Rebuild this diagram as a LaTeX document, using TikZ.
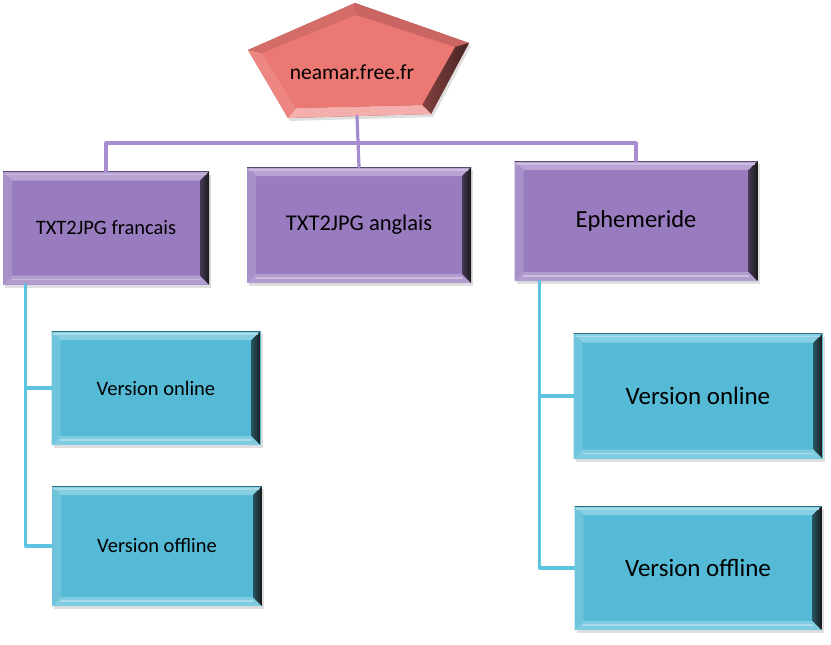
\documentclass[tikz,border=0pt]{standalone}
\usepackage{fontspec}
\setmainfont{Carlito}
\usetikzlibrary{calc,shadows}
\definecolor{rootred}{RGB}{236,120,116}
\definecolor{boxpurple}{RGB}{153,124,191}
\definecolor{boxcyan}{RGB}{84,186,214}
\definecolor{linepurple}{RGB}{168,140,208}
\definecolor{linecyan}{RGB}{92,196,224}
\tikzset{
  bevel/.style={rectangle, fill=#1, inner sep=0pt, text=black,
    drop shadow={opacity=.25, shadow xshift=2pt, shadow yshift=-3pt},
    path picture={
      \coordinate (pnw) at (path picture bounding box.north west);
      \coordinate (pne) at (path picture bounding box.north east);
      \coordinate (psw) at (path picture bounding box.south west);
      \coordinate (pse) at (path picture bounding box.south east);
      \fill[#1!70!white] (pnw) -- (pne) -- ($(pne)+(-9pt,-9pt)$) -- ($(pnw)+(9pt,-9pt)$) -- cycle;
      \fill[#1!85!white] (pnw) -- (psw) -- ($(psw)+(9pt,9pt)$) -- ($(pnw)+(9pt,-9pt)$) -- cycle;
      \fill[#1!75!white] (psw) -- (pse) -- ($(pse)+(-9pt,9pt)$) -- ($(psw)+(9pt,9pt)$) -- cycle;
      \shade[left color=#1!45!black, right color=black!90] (pne) -- (pse) -- ($(pse)+(-9pt,9pt)$) -- ($(pne)+(-9pt,-9pt)$) -- cycle;
      \draw[#1!50!white, line width=1.5pt] ($(psw)+(9pt,5pt)$) -- ($(pse)+(-9pt,5pt)$);
      \draw[#1!50!white, line width=1.2pt] ($(pnw)+(2pt,-3pt)$) -- ($(pne)+(-3pt,-3pt)$);
      \draw[#1!60!black, line width=1pt] (pnw) -- (pne);
    }},
  sitebox/.style={bevel=boxpurple},
  versionbox/.style={bevel=boxcyan},
  purpleline/.style={draw=linepurple, line width=3.2pt},
  cyanline/.style={draw=linecyan, line width=3.2pt}
}
\begin{document}
\begin{tikzpicture}[x=1pt, y=-1pt,
			line join=round, line cap=round,
			every node/.style = {inner sep=0pt}
			]
			\useasboundingbox (0,0) rectangle (831,645);
			% root pentagon
			\fill[rootred!70!black, drop shadow={opacity=.25, shadow xshift=2pt, shadow yshift=-3pt}]
			(355,3) -- (469,43) -- (431,114) -- (288,118) -- (248,50) -- cycle;
			\fill[rootred!85!black] (355,3) -- (469,43) -- (455,47) -- (356,15) -- cycle;
			\shade[left color=rootred!55!black, right color=rootred!30!black]
			(469,43) -- (431,114) -- (422,105) -- (455,47) -- cycle;
			\fill[rootred!60!white] (431,114) -- (288,118) -- (296,108) -- (422,105) -- cycle;
			\fill[rootred!90!white] (288,118) -- (248,50) -- (262,53) -- (296,108) -- cycle;
			\fill[rootred!90!black] (248,50) -- (355,3) -- (356,15) -- (262,53) -- cycle;
			\fill[rootred] (356,15) -- (455,47) -- (422,105) -- (296,108) -- (262,53) -- cycle;
			\node[font=\fontsize{21.5}{25}\selectfont] (root) at (352,72) {neamar.free.fr};
			\coordinate (rootbot) at (357,116);
			\coordinate (bus) at (357,143);
			% sites
			\node[sitebox, minimum width=206pt, minimum height=113pt,
			font=\fontsize{20.5}{24}\selectfont] (fr) at (106,228) {TXT2JPG francais};
			\node[sitebox, minimum width=224pt, minimum height=116pt,
			font=\fontsize{22.5}{26}\selectfont] (en) at (359,225) {TXT2JPG anglais};
			\node[sitebox, minimum width=243pt, minimum height=120pt,
			font=\fontsize{24.5}{28}\selectfont] (eph) at (636,221) {Ephemeride};
			% versions
			\node[versionbox, minimum width=209pt, minimum height=114pt,
			font=\fontsize{20.5}{24}\selectfont] (fron) at (156,388) {Version online};
			\node[versionbox, minimum width=210pt, minimum height=120pt,
			font=\fontsize{20.5}{24}\selectfont] (froff) at (157,546) {Version offline};
			\node[versionbox, minimum width=249pt, minimum height=125pt,
			font=\fontsize{25}{29}\selectfont] (ephon) at (698,396) {Version online};
			\node[versionbox, minimum width=247pt, minimum height=124pt,
			font=\fontsize{25}{29}\selectfont] (ephoff) at (698,568) {Version offline};
			% connectors
			\draw[purpleline] (rootbot) -- (en.north);
			\draw[purpleline] (fr.north) |- (bus) -| (eph.north);
			\coordinate (frdrop) at ($(fr.south west)+(23,0)$);
			\coordinate (ephdrop) at ($(eph.south west)+(25,0)$);
			\draw[cyanline] (frdrop) |- (froff.west);
			\draw[cyanline] (fron.west) -| (frdrop);
			\draw[cyanline] (ephdrop) |- (ephoff.west);
			\draw[cyanline] (ephon.west) -| (ephdrop);
\end{tikzpicture}
\end{document}
